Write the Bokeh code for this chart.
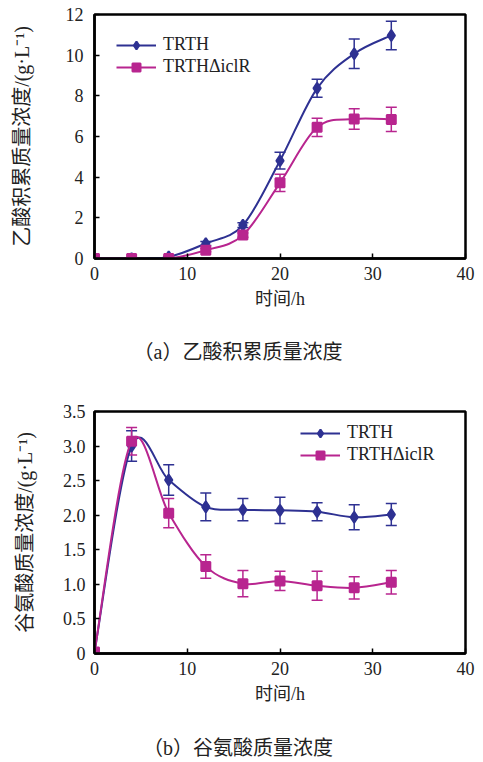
from bokeh.plotting import figure
from bokeh.models import (Range1d, FixedTicker, Whisker, TeeHead, ColumnDataSource,
                          Legend, LegendItem, Div, CustomJSTickFormatter)
from bokeh.layouts import column
from bokeh.embed import file_html
from bokeh.resources import INLINE

# ---------------- data ----------------
time_h = [0, 4, 8, 12, 16, 20, 24, 28, 32]

acetate_trth = [0, 0, 0.08, 0.74, 1.64, 4.81, 8.37, 10.07, 10.97]
acetate_trth_err = [0, 0, 0.03, 0.10, 0.12, 0.41, 0.44, 0.73, 0.70]
acetate_iclr = [0, 0, 0, 0.41, 1.15, 3.72, 6.45, 6.86, 6.84]
acetate_iclr_err = [0, 0, 0, 0.08, 0.10, 0.42, 0.45, 0.50, 0.60]

glu_trth = [0.02, 3.00, 2.51, 2.12, 2.08, 2.07, 2.05, 1.97, 2.01]
glu_trth_err = [0, 0.22, 0.22, 0.20, 0.16, 0.19, 0.13, 0.18, 0.16]
glu_iclr = [0.02, 3.07, 2.03, 1.26, 1.01, 1.05, 0.98, 0.95, 1.03]
glu_iclr_err = [0, 0.20, 0.21, 0.17, 0.19, 0.14, 0.21, 0.16, 0.17]

series_names = ["TRTH", "TRTH\u0394iclR"]
x_ticks = [0, 10, 20, 30, 40]
acetate_ticks = [0, 2, 4, 6, 8, 10, 12]
glu_ticks = [0, 0.5, 1.0, 1.5, 2.0, 2.5, 3.0, 3.5]

x_title = "时间/h"
acetate_ylabel = "乙酸积累质量浓度/(g·L\u207b\u00b9)"
glu_ylabel = "谷氨酸质量浓度/(g·L\u207b\u00b9)"
caption_a = "（a）乙酸积累质量浓度"
caption_b = "（b）谷氨酸质量浓度"

BLUE = "#2E3192"
MAGENTA = "#B8258F"
FONT = "'Liberation Serif', 'Noto Sans CJK SC', serif"


def smooth_segments(xs, ys):
    """Cubic Bezier control points (Catmull-Rom style smoothing) from the data."""
    n = len(xs)
    d = dict(x0=[], y0=[], x1=[], y1=[], cx0=[], cy0=[], cx1=[], cy1=[])
    for i in range(n - 1):
        a = i - 1 if i > 0 else i
        b = i + 2 if i + 2 < n else i + 1
        d["x0"].append(xs[i]); d["y0"].append(ys[i])
        d["x1"].append(xs[i + 1]); d["y1"].append(ys[i + 1])
        d["cx0"].append(xs[i] + (xs[i + 1] - xs[a]) / 6)
        d["cy0"].append(ys[i] + (ys[i + 1] - ys[a]) / 6)
        d["cx1"].append(xs[i + 1] - (xs[b] - xs[i]) / 6)
        d["cy1"].append(ys[i + 1] - (ys[b] - ys[i]) / 6)
    return ColumnDataSource(d)


def make_fig(height, ymax, yticks, ylabel, series, border, ystandoff, ylab_standoff,
             legend_loc, formatter=None):
    p = figure(width=476, height=height, x_range=Range1d(0, 40), y_range=Range1d(0, ymax),
               output_backend="svg", toolbar_location=None,
               min_border_left=border[0], min_border_right=border[1],
               min_border_top=border[2], min_border_bottom=border[3])
    p.grid.visible = False
    p.outline_line_color = "black"
    p.outline_line_width = 2.5
    p.outline_line_alpha = 1

    for ax in (p.xaxis[0], p.yaxis[0]):
        ax.axis_line_width = 2.5
        ax.axis_line_color = "black"
        ax.major_tick_in = 5
        ax.major_tick_out = 0
        ax.major_tick_line_width = 1.5
        ax.minor_tick_line_color = None
        ax.major_label_text_font = FONT
        ax.major_label_text_font_size = "18px"
        ax.major_label_text_color = "#222222"
        ax.axis_label_text_font = FONT
        ax.axis_label_text_font_style = "normal"
        ax.axis_label_text_color = "#222222"

    p.xaxis.ticker = FixedTicker(ticks=x_ticks)
    p.xaxis.axis_label = x_title
    p.xaxis.axis_label_text_font_size = "18px"
    p.xaxis.major_label_standoff = 8
    p.xaxis.axis_label_standoff = 6
    p.yaxis.ticker = FixedTicker(ticks=yticks)
    p.yaxis.axis_label = ylabel
    p.yaxis.axis_label_text_font_size = "20px"
    p.yaxis.major_label_standoff = ystandoff
    p.yaxis.axis_label_standoff = ylab_standoff
    if formatter is not None:
        p.yaxis.formatter = formatter

    items = []
    for name, ys, errs, color, marker, size in series:
        src = ColumnDataSource(dict(t=time_h, y=ys,
                                    upper=[v + e for v, e in zip(ys, errs)],
                                    lower=[v - e for v, e in zip(ys, errs)]))
        w = Whisker(source=src, base="t", upper="upper", lower="lower",
                    line_color=color, line_width=1.5, level="underlay",
                    upper_head=TeeHead(size=11, line_color=color, line_width=1.5),
                    lower_head=TeeHead(size=11, line_color=color, line_width=1.5))
        p.add_layout(w)
        seg = smooth_segments(time_h, ys)
        r_line = p.bezier(x0="x0", y0="y0", x1="x1", y1="y1", cx0="cx0", cy0="cy0",
                          cx1="cx1", cy1="cy1", source=seg, line_color=color, line_width=2)
        r_pt = p.scatter(x="t", y="y", source=src, marker=marker, size=size,
                         fill_color=color, line_color=color, line_width=2)
        items.append(LegendItem(label=name, renderers=[r_line, r_pt]))

    legend = Legend(items=items, location=legend_loc, border_line_alpha=0,
                    background_fill_alpha=0, padding=0, margin=0, spacing=1,
                    glyph_width=40, glyph_height=20, label_height=20, label_standoff=7,
                    label_text_font=FONT, label_text_font_size="18px",
                    label_text_color="#222222")
    p.add_layout(legend)
    return p


p1 = make_fig(318, 12, acetate_ticks, acetate_ylabel,
              [(series_names[0], acetate_trth, acetate_trth_err, BLUE, "diamond", 11),
               (series_names[1], acetate_iclr, acetate_iclr_err, MAGENTA, "square", 9)],
              (94, 11, 14, 60), 11, 30, (22, 181))

glu_fmt = CustomJSTickFormatter(code="return tick == 0 ? '0' : tick.toFixed(1);")
p2 = make_fig(318, 3.5, glu_ticks, glu_ylabel,
              [(series_names[0], glu_trth, glu_trth_err, BLUE, "diamond", 11),
               (series_names[1], glu_iclr, glu_iclr_err, MAGENTA, "square", 9)],
              (92, 11, 16, 60), 9, 24, (206, 188), formatter=glu_fmt)


def caption(text, h, pad_top):
    html = ('<div style="width:448px; text-align:center; padding-left:28px; padding-top:%dpx; '
            'font-size:20px; line-height:20px; color:#222222; font-family:%s; '
            'white-space:nowrap; margin:0;">%s</div>'
            % (pad_top, FONT.replace("'", "&quot;"), text))
    return Div(text=html, width=476, height=h, margin=0)


layout = column(p1, caption(caption_a, 77, 24), p2, caption(caption_b, 44, 25), spacing=0)

open("out.html", "w").write(file_html(layout, INLINE))
